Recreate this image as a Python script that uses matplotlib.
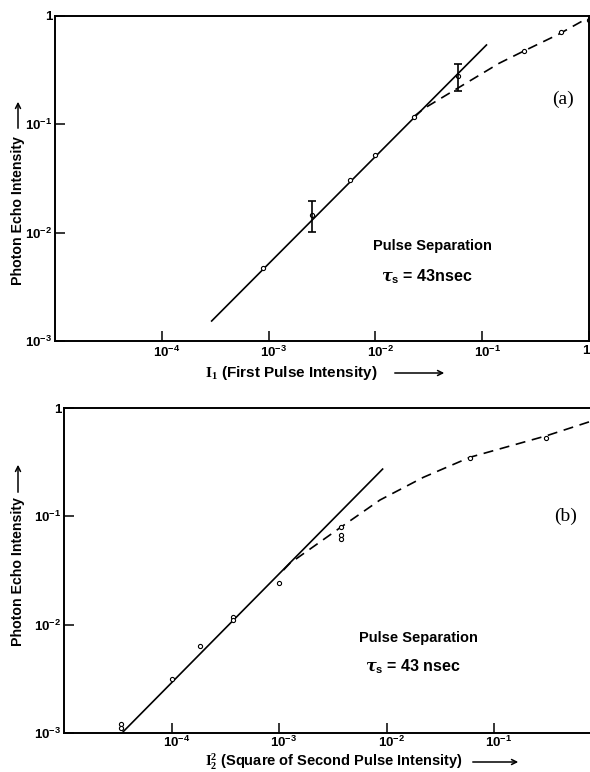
import matplotlib
matplotlib.use("Agg")
import matplotlib.pyplot as plt
import matplotlib.ticker as ticker
import matplotlib.transforms as mtransforms
from matplotlib.patches import FancyArrowPatch

W, H = 590, 772

# ── data ────────────────────────────────────────────────────────────────────

# panel (a): echo vs first pulse intensity
a_x = [8.85e-4, 2.56e-3, 5.75e-3, 0.01, 0.0228, 0.0597, 0.248, 0.545, 1.0]
a_y = [4.7e-3, 0.0146, 0.0306, 0.0517, 0.1175, 0.279, 0.475, 0.707, 0.92]
a_err_x = [2.56e-3, 0.0597]
a_err_y = [0.0146, 0.279]
a_err_lo = [0.0101, 0.204]
a_err_hi = [0.0194, 0.358]
a_fit_x = [2.93e-4, 0.1096]
a_fit_y = [1.53e-3, 0.54]
a_dash_x = [0.0228, 0.0287, 0.0587, 0.144, 0.238, 0.525, 0.90]
a_dash_y = [0.1175, 0.1406, 0.215, 0.366, 0.468, 0.682, 0.918]

# panel (b): echo vs square of second pulse intensity
b_x = [3.37e-5, 3.37e-5, 1e-4, 1.85e-4, 3.76e-4, 3.76e-4, 9.93e-4,
       3.78e-3, 3.78e-3, 3.78e-3, 0.0603, 0.303]
b_y = [1.2e-3, 1.11e-3, 3.17e-3, 6.3e-3, 0.0118, 0.0110, 0.024,
       0.0796, 0.067, 0.0617, 0.348, 0.532]
b_fit_x = [3.56e-5, 9.2e-3]
b_fit_y = [1.03e-3, 0.273]
b_dash_x = [1.1e-3, 1.26e-3, 3.78e-3, 8.7e-3, 0.022, 0.0598, 0.309, 0.80]
b_dash_y = [0.0319, 0.0368, 0.0796, 0.1415, 0.229, 0.351, 0.555, 0.755]

x_ticks = [1e-4, 1e-3, 1e-2, 1e-1, 1]
x_labels_a = [r"$\mathregular{10^{-4}}$", r"$\mathregular{10^{-3}}$",
              r"$\mathregular{10^{-2}}$", r"$\mathregular{10^{-1}}$", "1"]
x_labels_b = x_labels_a[:-1] + [""]   # the "1" of (b) lies off the page
y_ticks = [1e-3, 1e-2, 1e-1, 1]
y_labels = [r"$\mathregular{10^{-3}}$", r"$\mathregular{10^{-2}}$",
            r"$\mathregular{10^{-1}}$", "1"]

plt.rcParams["font.family"] = ["Liberation Sans", "DejaVu Sans"]
plt.rcParams["font.weight"] = "bold"
plt.rcParams["mathtext.fontset"] = "custom"
plt.rcParams["mathtext.rm"] = "Liberation Serif"
plt.rcParams["mathtext.it"] = "DejaVu Serif:italic"
plt.rcParams["mathtext.bf"] = "Liberation Serif:bold"


def px_rect(l, t, r, b):
    return [l / W, 1 - b / H, (r - l) / W, (b - t) / H]


def style_axes(ax, x_labels, xpad=3):
    ax.set_xscale("log")
    ax.set_yscale("log")
    ax.set_xlim(1e-5, 1)
    ax.set_ylim(1e-3, 1)
    ax.xaxis.set_major_locator(ticker.FixedLocator(x_ticks))
    ax.xaxis.set_major_formatter(ticker.FixedFormatter(x_labels))
    ax.yaxis.set_major_locator(ticker.FixedLocator(y_ticks))
    ax.yaxis.set_major_formatter(ticker.FixedFormatter(y_labels))
    ax.xaxis.set_minor_locator(ticker.NullLocator())
    ax.yaxis.set_minor_locator(ticker.NullLocator())
    ax.tick_params(direction="in", length=7, width=1.1, labelsize=9.5,
                   top=False, right=False, colors="black")
    ax.tick_params(axis="x", pad=xpad)
    ax.tick_params(axis="y", pad=2)
    for sp in ax.spines.values():
        sp.set_linewidth(1.4)
    # base "10" sits centred on the tick, exponent hangs to the right
    dpi_tr = ax.figure.dpi_scale_trans
    for lab, txt in zip(ax.get_xticklabels(), x_labels):
        dx = 5 if txt.startswith("$") else -3
        lab.set_transform(lab.get_transform()
                          + mtransforms.ScaledTranslation(dx / 100, 0, dpi_tr))


def fig_text(x, y, s, **kw):
    fig.text(x / W, 1 - y / H, s, **kw)


def fig_arrow(x0, y0, x1, y1):
    fig.add_artist(FancyArrowPatch(
        (x0 / W, 1 - y0 / H), (x1 / W, 1 - y1 / H), transform=fig.transFigure,
        arrowstyle="->", mutation_scale=9, lw=1.1, color="black"))


fig = plt.figure(figsize=(W / 100, H / 100), dpi=100)

# ── panel (a) ───────────────────────────────────────────────────────────────
ax_a = fig.add_axes(px_rect(55, 16, 589, 341))
style_axes(ax_a, x_labels_a)
ax_a.plot(a_fit_x, a_fit_y, color="black", lw=1.2)
ax_a.plot(a_dash_x, a_dash_y, color="black", lw=1.2, dashes=(6, 4))
ax_a.plot(a_x, a_y, "o", ms=3, mfc="white", mec="black", mew=0.8, clip_on=False)
ax_a.errorbar(a_err_x, a_err_y,
              yerr=[[v - lo for v, lo in zip(a_err_y, a_err_lo)],
                    [hi - v for v, hi in zip(a_err_y, a_err_hi)]],
              fmt="none", ecolor="black", elinewidth=1.2, capsize=3, capthick=1.2)

fig_text(563, 99, "(a)", family="Liberation Serif", weight="normal",
         fontsize=14, ha="center", va="center")
fig_text(432, 246, "Pulse Separation", fontsize=10.5, ha="center", va="center")
fig_text(427, 277, r"$\tau_{\mathregular{s}}$ = 43nsec", fontsize=11.5,
         ha="center", va="center")

fig_text(205, 373, r"$\mathrm{I}_1$ (First Pulse Intensity)", fontsize=11,
         ha="left", va="center")
fig_arrow(392, 373, 447, 373)
fig_text(18, 211, "Photon Echo Intensity", fontsize=10.2, rotation=90,
         ha="center", va="center")
fig_arrow(18, 131, 18, 99)

# ── panel (b) ───────────────────────────────────────────────────────────────
ax_b = fig.add_axes(px_rect(64, 408, 601.5, 733))
style_axes(ax_b, x_labels_b, xpad=1.5)
ax_b.plot(b_fit_x, b_fit_y, color="black", lw=1.2)
ax_b.plot(b_dash_x, b_dash_y, color="black", lw=1.2, dashes=(6, 4))
ax_b.plot(b_x, b_y, "o", ms=3, mfc="white", mec="black", mew=0.8, clip_on=False)

fig_text(566, 516, "(b)", family="Liberation Serif", weight="normal",
         fontsize=14, ha="center", va="center")
fig_text(418, 638, "Pulse Separation", fontsize=10.5, ha="center", va="center")
fig_text(413, 667, r"$\tau_{\mathregular{s}}$ = 43 nsec", fontsize=11.5,
         ha="center", va="center")

fig_text(205, 762, r"$\mathrm{I}_2^2$ (Square of Second Pulse Intensity)",
         fontsize=10.5, ha="left", va="center")
fig_arrow(470, 762, 521, 762)
fig_text(18, 572, "Photon Echo Intensity", fontsize=10.2, rotation=90,
         ha="center", va="center")
fig_arrow(18, 495, 18, 462)

fig.savefig("out.png", dpi=100)
